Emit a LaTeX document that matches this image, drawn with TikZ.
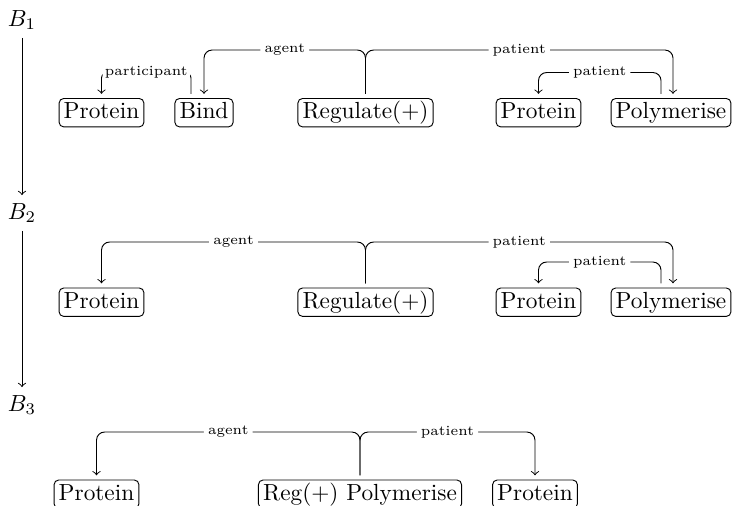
\documentclass[tikz,border=0pt]{standalone}
\usetikzlibrary{calc}
\begin{document}
\begin{tikzpicture}[x=0.429pt,y=-0.429pt,
  ent/.style={draw, rounded corners=2pt, inner xsep=2pt, inner ysep=0.4pt,
              text height=8.4pt, text depth=3pt, outer sep=2pt, anchor=base},
  rel/.style={->, rounded corners=3.5pt},
  lbl/.style={fill=white, font=\fontsize{6}{7}\selectfont, inner xsep=1.8pt, inner ysep=1pt},
  stage/.style={inner sep=3.33pt}]
\useasboundingbox (0,0) rectangle (734,506);

% stage labels and the chain between them
\node[stage] (b1) at (22,20) {$B_1$};
\node[stage] (b2) at (22,213) {$B_2$};
\node[stage] (b3) at (22,405) {$B_3$};
\draw[->] (b1) -- (b2);
\draw[->] (b2) -- (b3);

% ---- B1 ----
\node[ent] (p1)    at (101.5,119) {Protein};
\node[ent] (bind)  at (204,119)   {Bind};
\node[ent] (reg1)  at (365.5,119) {Regulate(+)};
\node[ent] (q1)    at (538.5,119) {Protein};
\node[ent] (poly1) at (671,119)   {Polymerise};
\coordinate (hiA) at (0,50);
\coordinate (loA) at (0,72.5);
\coordinate (bs)  at ($(bind.north)+(-13,0)$);
\coordinate (ps1) at ($(poly1.north)+(-10,0)$);
\coordinate (pt1) at ($(poly1.north)+(2,0)$);

\draw[rel] (reg1.north) -- (reg1.north |- hiA) -- node[lbl]{agent} (bind.north |- hiA) -- (bind.north);
\draw[rel] (reg1.north) -- (reg1.north |- hiA) -- node[lbl]{patient} (pt1 |- hiA) -- (pt1);
\draw[rel, rounded corners=2.5pt] (bs) -- (bs |- loA) -- node[lbl, inner xsep=1pt]{participant} (p1.north |- loA) -- (p1.north);
\draw[rel] (ps1) -- (ps1 |- loA) -- node[lbl]{patient} (q1.north |- loA) -- (q1.north);

% ---- B2 ----
\node[ent] (p2)    at (101.5,308.5) {Protein};
\node[ent] (reg2)  at (365.5,308.5) {Regulate(+)};
\node[ent] (q2)    at (538.5,308.5) {Protein};
\node[ent] (poly2) at (671,308.5)   {Polymerise};
\coordinate (hiB) at (0,242);
\coordinate (loB) at (0,262);
\coordinate (ps2) at ($(poly2.north)+(-10,0)$);
\coordinate (pt2) at ($(poly2.north)+(2,0)$);

\draw[rel] (reg2.north) -- (reg2.north |- hiB) -- node[lbl]{agent} (p2.north |- hiB) -- (p2.north);
\draw[rel] (reg2.north) -- (reg2.north |- hiB) -- node[lbl]{patient} (pt2 |- hiB) -- (pt2);
\draw[rel] (ps2) -- (ps2 |- loB) -- node[lbl]{patient} (q2.north |- loB) -- (q2.north);

% ---- B3 ----
\node[ent] (p3)  at (96.5,500.5) {Protein};
\node[ent] (rp3) at (360,500.5)  {Reg(+) Polymerise};
\node[ent] (q3)  at (535,500.5)  {Protein};
\coordinate (hiC) at (0,432);

\draw[rel] (rp3.north) -- (rp3.north |- hiC) -- node[lbl]{agent} (p3.north |- hiC) -- (p3.north);
\draw[rel] (rp3.north) -- (rp3.north |- hiC) -- node[lbl]{patient} (q3.north |- hiC) -- (q3.north);
\end{tikzpicture}
\end{document}
